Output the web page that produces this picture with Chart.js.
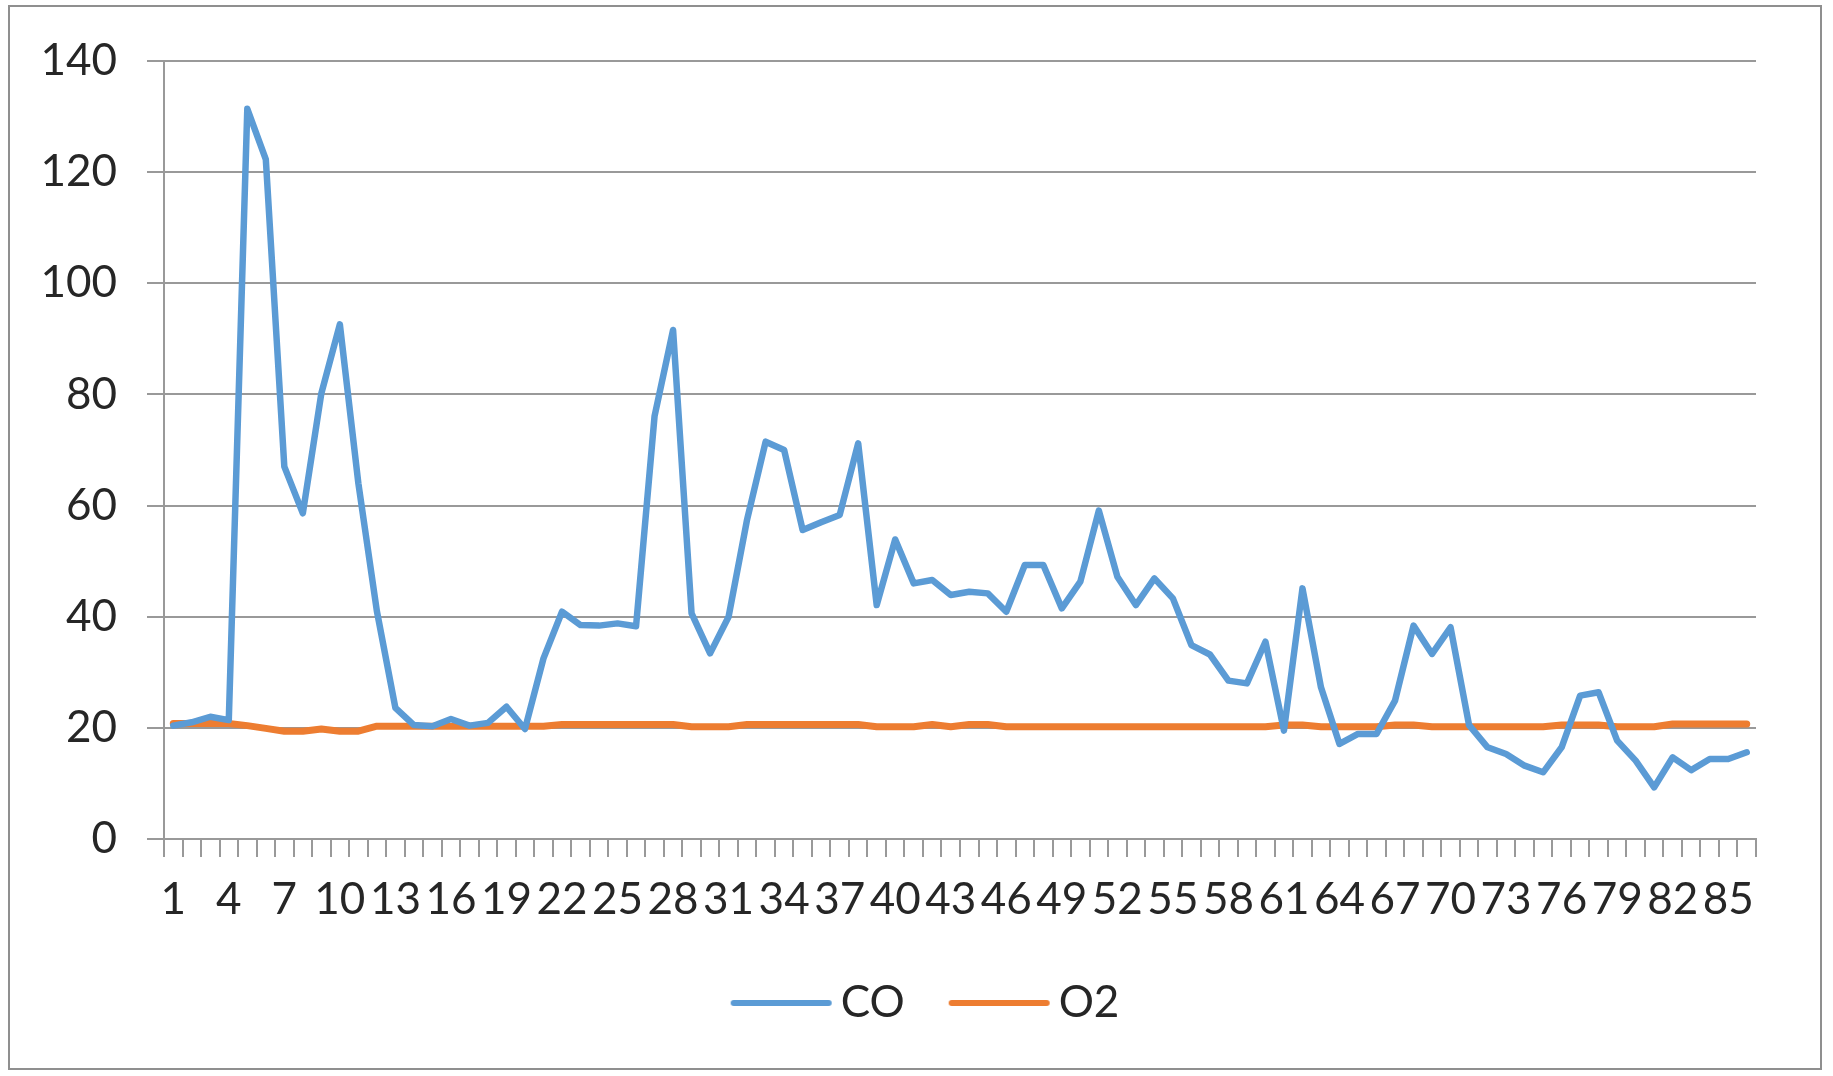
<!DOCTYPE html>
<html>
<head>
<meta charset="utf-8">
<script src="https://cdn.jsdelivr.net/npm/chart.js@4"></script>
<style>
    html, body { margin: 0; padding: 0; background: #ffffff; }
    #box {
        position: absolute;
        left: 8px;
        top: 5px;
        width: 1814px;
        height: 1065px;
        box-sizing: border-box;
        border: 2px solid #8f8f8f;
        background: #ffffff;
    }
</style>
</head>
<body>
<div id="box"><canvas id="chart"></canvas></div>
<script>
// 横轴类别
const xLabels = [
    '1', '2', '3', '4', '5', '6', '7', '8', '9', '10',
    '11', '12', '13', '14', '15', '16', '17', '18', '19', '20',
    '21', '22', '23', '24', '25', '26', '27', '28', '29', '30',
    '31', '32', '33', '34', '35', '36', '37', '38', '39', '40',
    '41', '42', '43', '44', '45', '46', '47', '48', '49', '50',
    '51', '52', '53', '54', '55', '56', '57', '58', '59', '60',
    '61', '62', '63', '64', '65', '66', '67', '68', '69', '70',
    '71', '72', '73', '74', '75', '76', '77', '78', '79', '80',
    '81', '82', '83', '84', '85', '86'
];

// CO 数据
const coValues = [
    20.4, 21.0, 22.0, 21.4, 131.4, 122.3, 67.0, 58.6, 80.2, 92.6,
    64.0, 41.0, 23.6, 20.5, 20.3, 21.6, 20.4, 20.9, 23.8, 19.8,
    32.5, 40.9, 38.5, 38.4, 38.8, 38.3, 76.1, 91.6, 40.6, 33.4,
    40.0, 57.5, 71.5, 70.0, 55.6, 57.0, 58.3, 71.2, 42.1, 53.9,
    46.0, 46.6, 43.9, 44.5, 44.2, 40.9, 49.3, 49.3, 41.5, 46.3,
    59.1, 47.2, 42.1, 46.9, 43.3, 34.9, 33.2, 28.5, 28.0, 35.5,
    19.5, 45.1, 27.3, 17.1, 18.9, 18.9, 24.9, 38.4, 33.3, 38.1,
    20.5, 16.5, 15.3, 13.2, 12.0, 16.5, 25.8, 26.4, 17.7, 14.1,
    9.3, 14.7, 12.4, 14.4, 14.4, 15.6
];

// O2 数据
const o2Values = [
    20.8, 20.8, 20.8, 20.8, 20.4, 19.9, 19.4, 19.4, 19.8, 19.4,
    19.4, 20.3, 20.3, 20.3, 20.3, 20.3, 20.3, 20.3, 20.3, 20.3,
    20.3, 20.6, 20.6, 20.6, 20.6, 20.6, 20.6, 20.6, 20.2, 20.2,
    20.2, 20.6, 20.6, 20.6, 20.6, 20.6, 20.6, 20.6, 20.2, 20.2,
    20.2, 20.6, 20.2, 20.6, 20.6, 20.2, 20.2, 20.2, 20.2, 20.2,
    20.2, 20.2, 20.2, 20.2, 20.2, 20.2, 20.2, 20.2, 20.2, 20.2,
    20.5, 20.5, 20.2, 20.2, 20.2, 20.2, 20.5, 20.5, 20.2, 20.2,
    20.2, 20.2, 20.2, 20.2, 20.2, 20.5, 20.5, 20.5, 20.2, 20.2,
    20.2, 20.7, 20.7, 20.7, 20.7, 20.7
];

// 纵轴刻度
const yTicks = [0, 20, 40, 60, 80, 100, 120, 140];

const gridColor = '#999999';
const textColor = '#262626';
const fontFamily = 'Lato, "Open Sans", sans-serif';
const coColor = '#5B9BD5';
const o2Color = '#ED7D31';

// 图例里的线段：画在小画布右侧，让文字紧跟在线段后面
const legendLine = (color, width) => {
    const c = document.createElement('canvas');
    c.width = 130;
    c.height = 12;
    const g = c.getContext('2d');
    g.strokeStyle = color;
    g.lineWidth = width;
    g.lineCap = 'round';
    g.beginPath();
    g.moveTo(24, 6);
    g.lineTo(119, 6);
    g.stroke();
    return c;
};

// 图例整体向右挪，和原图居中位置一致
const legendShift = {
    id: 'legendShift',
    afterLayout(chart) {
        chart.legend.left += 42;
        chart.legend.right += 42;
    }
};

const ctx = document.getElementById('chart').getContext('2d');

new Chart(ctx, {
    type: 'line',
    data: {
        labels: xLabels,
        datasets: [
            {
                label: 'CO',
                data: coValues,
                borderColor: coColor,
                backgroundColor: coColor,
                borderWidth: 6.5,
                borderJoinStyle: 'round',
                borderCapStyle: 'round',
                pointRadius: 0,
                pointStyle: legendLine(coColor, 6),
                tension: 0
            },
            {
                label: 'O2',
                data: o2Values,
                borderColor: o2Color,
                backgroundColor: o2Color,
                borderWidth: 7,
                borderJoinStyle: 'round',
                borderCapStyle: 'round',
                pointRadius: 0,
                pointStyle: legendLine(o2Color, 6),
                tension: 0
            }
        ]
    },
    plugins: [legendShift],
    options: {
        responsive: true,
        maintainAspectRatio: false,
        animation: false,
        layout: {
            padding: { left: 0, right: 64, top: 54, bottom: 33 }
        },
        plugins: {
            tooltip: { enabled: false },
            legend: {
                position: 'bottom',
                labels: {
                    usePointStyle: true,
                    pointStyleWidth: 88,
                    boxHeight: 44,
                    padding: 44,
                    color: textColor,
                    font: { family: fontFamily, size: 44 }
                }
            }
        },
        scales: {
            x: {
                offset: true,
                afterFit: (scale) => { scale.height = 98; },
                grid: {
                    offset: true,
                    drawOnChartArea: false,
                    drawTicks: true,
                    tickLength: 18,
                    color: gridColor,
                    lineWidth: 2
                },
                border: { display: true, color: gridColor, width: 2 },
                ticks: {
                    autoSkip: false,
                    maxRotation: 0,
                    minRotation: 0,
                    padding: 16,
                    color: textColor,
                    font: { family: fontFamily, size: 44 },
                    callback: function (value, index) {
                        return index % 3 === 0 ? this.getLabelForValue(value) : '';
                    }
                }
            },
            y: {
                min: yTicks[0],
                max: yTicks[yTicks.length - 1],
                afterFit: (scale) => { scale.width = 154; },
                afterBuildTicks: (scale) => {
                    scale.ticks = yTicks.map(v => ({ value: v }));
                },
                grid: {
                    color: gridColor,
                    lineWidth: 2,
                    drawTicks: true,
                    tickLength: 17
                },
                border: { display: true, color: gridColor, width: 2 },
                ticks: {
                    padding: 30,
                    color: textColor,
                    font: { family: fontFamily, size: 44, lineHeight: 1 }
                }
            }
        }
    }
});
</script>
</body>
</html>
